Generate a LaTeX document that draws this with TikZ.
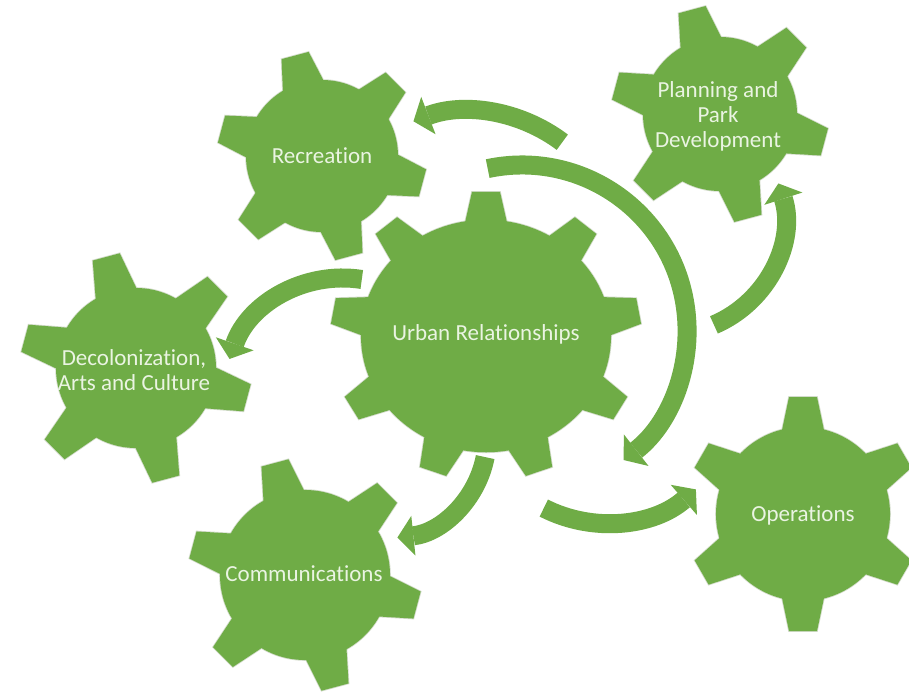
\documentclass[tikz,border=0pt]{standalone}
\usepackage{fontspec}
\setmainfont{Carlito}[Ligatures=NoCommon]
\usetikzlibrary{arrows.meta,shapes.geometric}
\definecolor{geargreen}{HTML}{6FAC46}
\definecolor{gearedge}{HTML}{D3DCCB}
\definecolor{textpale}{HTML}{EAF4E2}
\newcommand{\GearTeeth}[5]{%
  \foreach \gk in {1,...,#2}{%
    \pgfmathsetmacro{\gang}{#3+360/#2*(\gk-1)}%
    \path[#1,rotate=\gang] (#4pt-8pt,-22pt) -- (#5pt,-14pt) -- (#5pt,14pt) -- (#4pt-8pt,22pt) -- cycle;
  }%
}
% #1 n teeth, #2 rotation, #3 body radius, #4 tip radius
\newcommand{\GearShape}[4]{%
  \GearTeeth{gearline}{#1}{#2}{#3}{#4}
  \draw[gearline] (0,0) circle[radius=#3pt];
  \GearTeeth{gearfill}{#1}{#2}{#3}{#4}
  \fill[gearfill] (0,0) circle[radius=#3pt];
}
\begin{document}
\begin{tikzpicture}[x=1pt,y=-1pt,
  gearfill/.style={fill=geargreen},
  gearline/.style={draw=gearedge,line width=1.6pt},
  gearlabel/.style={inner sep=0pt,text=textpale,
    font=\fontsize{23}{25}\selectfont,align=center},
  flow/.style={draw=geargreen,line width=19pt,
    -{Triangle[width=40pt,length=16pt,line width=0pt]}}]
\useasboundingbox (0,0) rectangle (909,691);
\fill[white] (0,0) rectangle (909,691);

% ---------- gears ----------
\begin{scope}[shift={(486,336)},yscale=0.93]
  \GearShape{9}{90}{125}{155}
\end{scope}
\node[gearlabel] (urban) at (486,334) {Urban Relationships};

\begin{scope}[shift={(322,156)}]
  \GearShape{6}{105}{76}{104}
\end{scope}
\node[gearlabel] (rec) at (322,156) {Recreation};

\begin{scope}[shift={(136,368)}]
  \GearShape{6}{105}{80}{115}
\end{scope}
\node[gearlabel] (dec) at (134,370) {Decolonization,\\Arts and Culture};

\begin{scope}[shift={(305,575)}]
  \GearShape{6}{105}{85}{116}
\end{scope}
\node[gearlabel] (com) at (304,574) {Communications};

\begin{scope}[shift={(720,114)}]
  \GearShape{6}{105}{77}{108}
\end{scope}
\node[gearlabel] (plan) at (718,116) {Planning and\\Park\\Development};

\begin{scope}[shift={(803,514)}]
  \GearShape{6}{90}{87}{117}
\end{scope}
\node[gearlabel] (ops) at (803,515) {Operations};

% ---------- curved arrows ----------
\coordinate (t1) at ([shift={(53:155pt)}]469,266);
\coordinate (t2) at ([shift={(102:165pt)}]522,330);
\coordinate (t3) at ([shift={(-67:115pt)}]669,219);
\coordinate (t4) at ([shift={(81:120pt)}]343,398);
\coordinate (t5) at ([shift={(-11:100pt)}]387,438);
\coordinate (t6) at ([shift={(-117:137pt)}]606,386);

\draw[flow] (t1) arc[start angle=53,end angle=111,radius=155pt];
\draw[flow] (t2) arc[start angle=102,end angle=-52,radius=165pt];
\draw[flow] (t3) arc[start angle=-67,end angle=18,radius=115pt];
\draw[flow] (t4) arc[start angle=81,end angle=161,radius=120pt];
\draw[flow] (t5) arc[start angle=-11,end angle=-84,radius=100pt];
\draw[flow] (t6) arc[start angle=-117,end angle=-49,radius=137pt];
\end{tikzpicture}
\end{document}
